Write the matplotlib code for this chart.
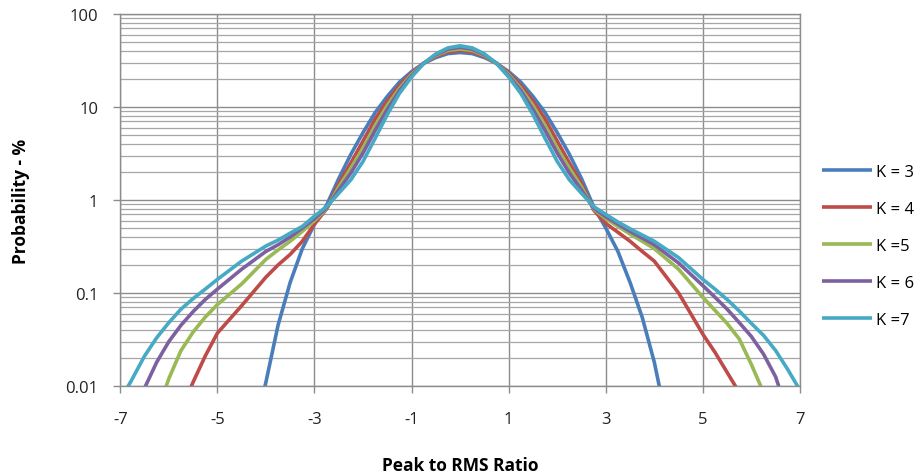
import numpy as np
import matplotlib
matplotlib.use("Agg")
import matplotlib.pyplot as plt
from matplotlib.ticker import FixedLocator, NullFormatter

nan = np.nan

# x positions (peak to RMS ratio)
x_left = [-7, -6.75, -6.5, -6.25, -6, -5.75, -5.5, -5.25, -5, -4.5, -4, -3.75, -3.5, -3.25, -3, -2.75]
x_core = [-2.5, -2.25, -2, -1.75, -1.5, -1.25, -1, -0.75, -0.5, -0.25, 0,
          0.25, 0.5, 0.75, 1, 1.25, 1.5, 1.75, 2, 2.25, 2.5]
x_right = [2.75, 3, 3.25, 3.5, 3.75, 4, 4.5, 5, 5.25, 5.5, 5.75, 6, 6.25, 6.5, 6.75, 7]

# probability (%)
k3_left = [nan, nan, nan, nan, nan, nan, nan, nan, nan, 0.0008, 0.011, 0.045, 0.13, 0.3, 0.55, 0.88]
k3_core = [1.7, 3.1, 5.3, 8.7, 13, 18.5, 24, 29.5, 34, 37.5, 38.5,
           37.5, 34, 29.5, 24, 18.5, 13, 8.7, 5.3, 3.1, 1.7]
k3_right = [0.85, 0.5, 0.28, 0.13, 0.055, 0.018, 0.001, nan, nan, nan, nan, nan, nan, nan, nan, nan]

k4_left = [nan, nan, nan, nan, nan, 0.0055, 0.011, 0.021, 0.037, 0.073, 0.148, 0.2, 0.26, 0.36, 0.55, 0.8]
k4_core = [1.5, 2.5, 4.3, 7.4, 11.6, 17, 23.2, 29.5, 35, 39, 40.5,
           39, 35, 29.5, 23.2, 17, 11.6, 7.4, 4.3, 2.5, 1.5]
k4_right = [0.78, 0.56, 0.45, 0.36, 0.28, 0.22, 0.1, 0.036, 0.023, 0.014, 0.0085, nan, nan, nan, nan, nan]

k5_left = [nan, nan, nan, 0.005, 0.012, 0.024, 0.038, 0.055, 0.075, 0.125, 0.23, 0.29, 0.36, 0.46, 0.6, 0.8]
k5_core = [1.38, 2.2, 3.6, 6.3, 10.4, 15.8, 22.4, 29.5, 35.7, 40.5, 42,
           40.5, 35.7, 29.5, 22.4, 15.8, 10.4, 6.3, 3.6, 2.2, 1.38]
k5_right = [0.8, 0.63, 0.52, 0.43, 0.36, 0.3, 0.18, 0.09, 0.065, 0.047, 0.032, 0.017, 0.0085, nan, nan, nan]

k6_left = [nan, 0.004, 0.0095, 0.018, 0.03, 0.045, 0.063, 0.085, 0.11, 0.18, 0.28, 0.33, 0.4, 0.5, 0.63, 0.82]
k6_core = [1.28, 1.95, 3.2, 5.6, 9.4, 15, 21.7, 29.5, 36.4, 41.8, 43.8,
           41.8, 36.4, 29.5, 21.7, 15, 9.4, 5.6, 3.2, 1.95, 1.28]
k6_right = [0.82, 0.66, 0.55, 0.46, 0.39, 0.33, 0.21, 0.12, 0.09, 0.067, 0.048, 0.034, 0.022, 0.0125, 0.005, nan]

k7_left = [0.007, 0.012, 0.021, 0.033, 0.048, 0.067, 0.087, 0.11, 0.14, 0.22, 0.32, 0.37, 0.44, 0.52, 0.67, 0.85]
k7_core = [1.18, 1.65, 2.6, 4.6, 8.3, 14, 21, 29.4, 37.2, 43.2, 45.5,
           43.2, 37.2, 29.4, 21, 14, 8.3, 4.6, 2.6, 1.65, 1.18]
k7_right = [0.85, 0.7, 0.58, 0.49, 0.42, 0.36, 0.24, 0.14, 0.11, 0.085, 0.064, 0.047, 0.035, 0.024, 0.015, 0.009]

labels = ["K = 3", "K = 4", "K =5", "K = 6", "K =7"]
colors = ["#4A7EBB", "#BE4B48", "#98B954", "#7D60A0", "#46AAC5"]

x = x_left + x_core + x_right
series = [k3_left + k3_core + k3_right,
          k4_left + k4_core + k4_right,
          k5_left + k5_core + k5_right,
          k6_left + k6_core + k6_right,
          k7_left + k7_core + k7_right]

plt.rcParams['font.family'] = ['Open Sans', 'DejaVu Sans']

fig = plt.figure(figsize=(9.23, 4.77), dpi=100)
ax = fig.add_axes([0.1303, 0.1887, 0.7364, 0.7799])

for ys, lab, col in zip(series, labels, colors):
    ax.plot(x, ys, color=col, lw=2.6, label=lab, solid_capstyle='butt',
            solid_joinstyle='round')

ax.set_yscale('log')
ax.set_xlim(-7, 7)
ax.set_ylim(0.01, 100)

grid_col = "#8c8c8c"
ax.set_xticks([-7, -5, -3, -1, 1, 3, 5, 7])
ax.set_xticklabels(["-7", "-5", "-3", "-1", "1", "3", "5", "7"])
ax.set_yticks([0.01, 0.1, 1, 10, 100])
ax.set_yticklabels(["0.01", "0.1", "1", "10", "100"])
minor = [m * 10.0 ** e for e in range(-2, 2) for m in range(2, 10)]
ax.yaxis.set_minor_locator(FixedLocator(minor))
ax.yaxis.set_minor_formatter(NullFormatter())

ax.grid(True, which='major', color=grid_col, lw=1.0)
ax.grid(True, which='minor', axis='y', color="#a6a6a6", lw=0.9)
ax.set_axisbelow(True)

ax.tick_params(axis='both', which='major', direction='out', length=5, width=1,
               color=grid_col, labelsize=12, labelcolor='#222222')
ax.tick_params(axis='y', which='minor', length=0)
ax.tick_params(axis='x', pad=13)
ax.tick_params(axis='y', pad=11)
for s in ax.spines.values():
    s.set_color(grid_col)
    s.set_linewidth(1.0)

ax.set_xlabel("Peak to RMS Ratio", fontsize=12.5, fontweight='bold', labelpad=21)
ax.set_ylabel("Probability - %", fontsize=12.5, fontweight='bold', labelpad=25)

fig.legend(loc='upper left', bbox_to_anchor=(0.891, 0.655), frameon=False,
           fontsize=12, handlelength=2.95, handletextpad=0.25, labelspacing=1.27,
           borderpad=0, borderaxespad=0)

fig.savefig("out.png", dpi=100)
